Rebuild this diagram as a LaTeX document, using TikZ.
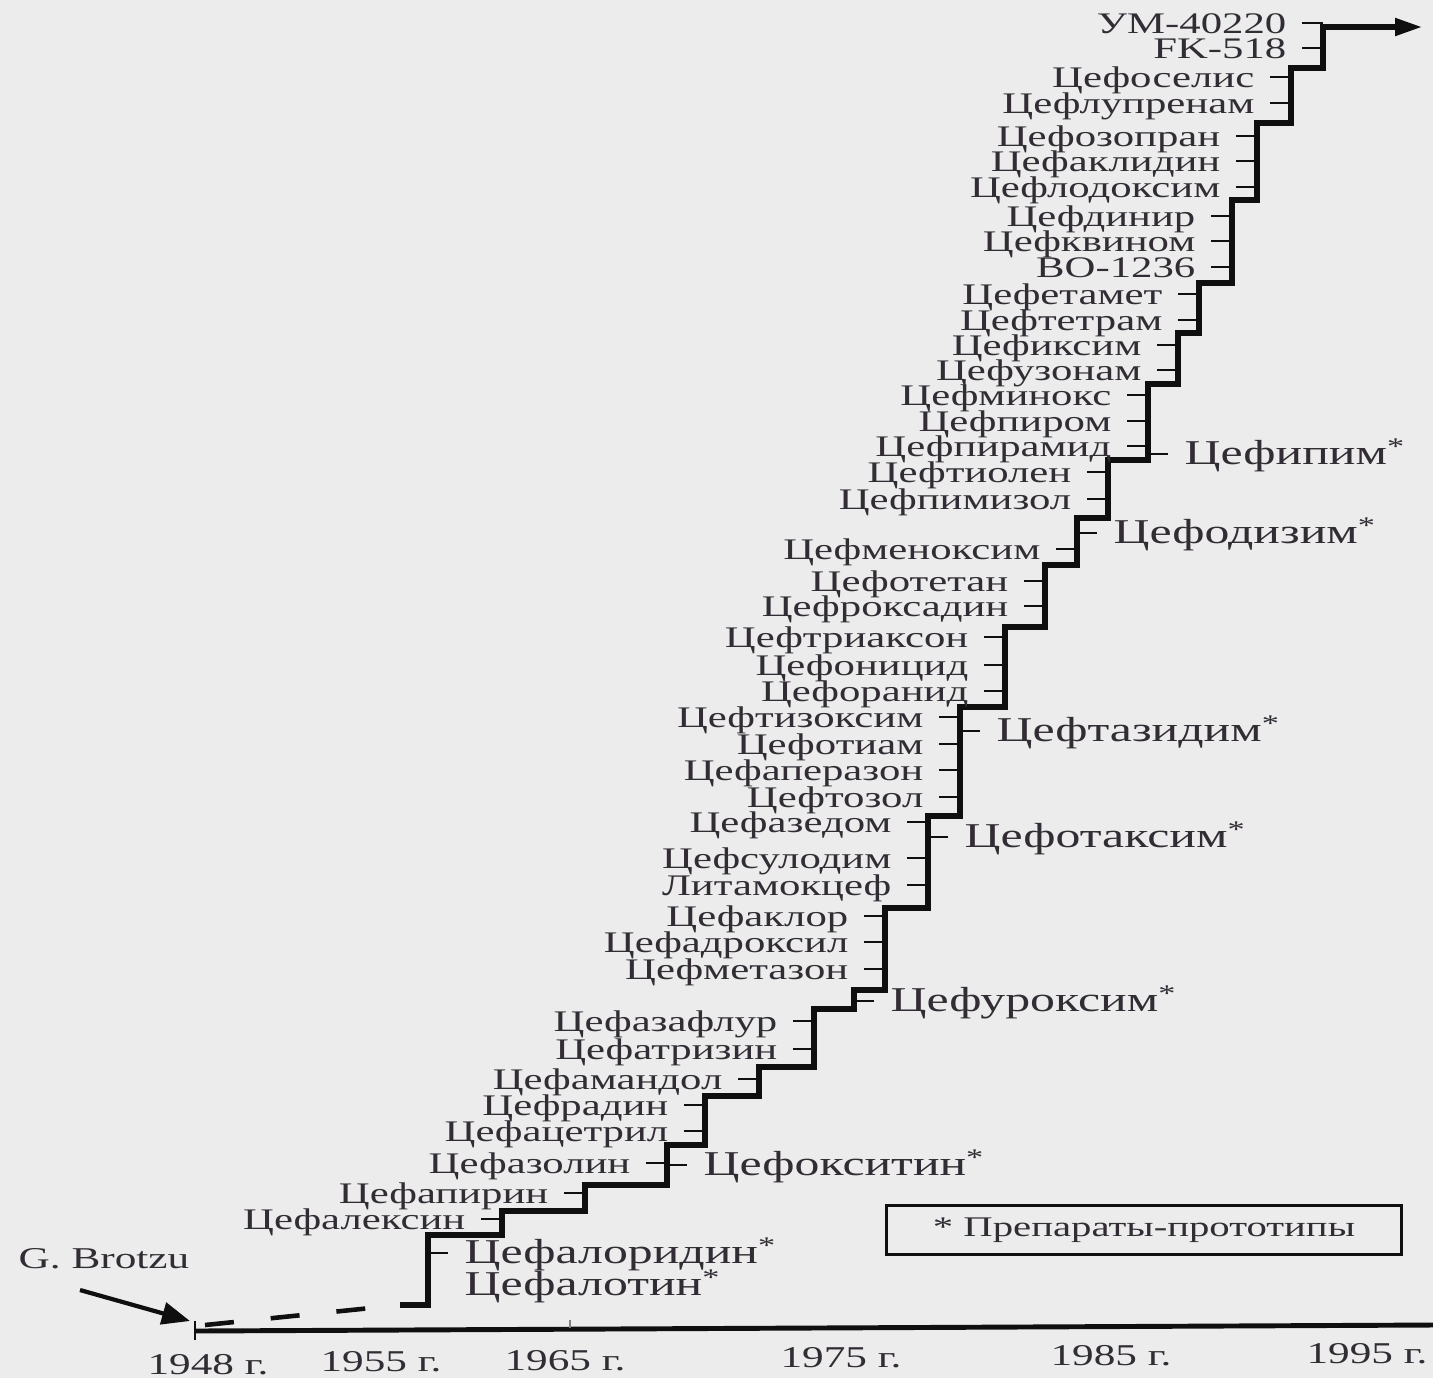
\documentclass[tikz,border=0pt]{standalone}
\usepackage{fontspec}
\setmainfont{Liberation Serif}
\newfontfamily\labfont[FakeStretch=1.43]{Liberation Serif}
\usetikzlibrary{arrows.meta}
\definecolor{bg}{RGB}{236,236,236}
\definecolor{ink}{RGB}{50,45,52}
\definecolor{lineink}{RGB}{15,15,15}
\newcommand{\protost}{\raisebox{0.3em}{\fontsize{6.8pt}{7pt}\selectfont *}}
\begin{document}
\begin{tikzpicture}[x=0.01cm,y=-0.01cm,
  leftlab/.style={anchor=east, inner sep=0pt, text height=0.62em, text depth=0pt,
    font=\labfont\fontsize{8.5pt}{9pt}\selectfont, text=ink},
  rightlab/.style={anchor=west, inner sep=0pt, text height=0.62em, text depth=0pt,
    font=\labfont\fontsize{9.9pt}{11pt}\selectfont, text=ink},
  yearlab/.style={inner sep=0pt, text height=0.62em, text depth=0pt,
    font=\labfont\fontsize{8.6pt}{9pt}\selectfont, text=ink},
  tickline/.style={draw=lineink, line width=0.55pt},
  stair/.style={draw=lineink, line width=1.45pt, line join=miter, line cap=butt},
  axisline/.style={draw=lineink, line width=1.4pt},
  dashline/.style={draw=lineink, line width=1.3pt, dash pattern=on 0.29cm off 0.37cm},
  legendbox/.style={draw=lineink, line width=0.8pt, minimum width=5.14cm, minimum height=0.49cm,
    inner sep=0pt, font=\labfont\fontsize{8.1pt}{9pt}\selectfont, text=ink}
]
\fill[bg] (0,0) rectangle (1433,1378);
\useasboundingbox (0,0) rectangle (1433,1378);

% staircase
\draw[stair, -{Triangle[length=0.27cm, width=0.17cm]}]
  (400,1305) -- (428,1305) -- (428,1235) -- (502,1235) -- (502,1211) -- (585,1211)
  -- (585,1185) -- (667,1185) -- (667,1145) -- (705,1145) -- (705,1096) -- (759,1096)
  -- (759,1067) -- (814,1067) -- (814,1009) -- (854,1009) -- (854,990) -- (885,990)
  -- (885,908) -- (928,908) -- (928,816) -- (960,816) -- (960,707) -- (1005,707)
  -- (1005,627) -- (1045,627) -- (1045,565) -- (1077,565) -- (1077,518) -- (1108,518)
  -- (1108,460) -- (1148,460) -- (1148,384) -- (1178,384) -- (1178,333) -- (1199,333)
  -- (1199,283) -- (1232,283) -- (1232,200) -- (1257,200) -- (1257,123) -- (1291,123)
  -- (1291,68) -- (1323,68) -- (1323,27) -- (1422,27);

% dashed beginning
\coordinate (start) at (205,1325);
\coordinate (firstdrug) at (400,1305);
\draw[dashline] (start) -- (firstdrug);

% axis
\coordinate (axL) at (196,1331);
\coordinate (axR) at (1433,1325);
\draw[axisline] (axL) -- (axR);
\draw[line width=0.7pt, draw=lineink] (195,1321) -- (195,1340);
\draw[line width=0.4pt, draw=gray] (570,1320) -- (570,1328);

% left labels
\foreach \t/\xv/\yy [count=\i] in {
  УМ-40220/1323/23, FK-518/1323/48,
  Цефоселис/1291/77, Цефлупренам/1291/103,
  Цефозопран/1257/136, Цефаклидин/1257/161, Цефлодоксим/1257/187,
  Цефдинир/1232/216, Цефквином/1232/241, BO-1236/1232/267,
  Цефетамет/1199/294, Цефтетрам/1199/320,
  Цефиксим/1178/345, Цефузонам/1178/370,
  Цефминокс/1148/395, Цефпиром/1148/421, Цефпирамид/1148/446,
  Цефтиолен/1108/472, Цефпимизол/1108/499,
  Цефменоксим/1077/549,
  Цефотетан/1045/581, Цефроксадин/1045/606,
  Цефтриаксон/1005/637, Цефоницид/1005/665, Цефоранид/1005/691,
  Цефтизоксим/960/717, Цефотиам/960/744, Цефаперазон/960/770, Цефтозол/960/797,
  Цефазедом/928/822, Цефсулодим/928/858, Литамокцеф/928/885,
  Цефаклор/885/916, Цефадроксил/885/942, Цефметазон/885/969,
  Цефазафлур/814/1021, Цефатризин/814/1049,
  Цефамандол/759/1079,
  Цефрадин/705/1105, Цефацетрил/705/1131,
  Цефазолин/667/1163,
  Цефапирин/585/1193,
  Цефалексин/502/1219}
{
  \coordinate (T\i) at (\xv,\yy);
  \node[leftlab] (L\i) at (\xv-36,\yy) {\t};
  \draw[tickline] ([xshift=0.15cm]L\i.east) -- (T\i);
}

% prototype labels (right side)
\foreach \t/\xv/\yy [count=\i] in {
  Цефипим/1148/454, Цефодизим/1077/533, Цефтазидим/960/731,
  Цефотаксим/928/837, Цефуроксим/854/1001, Цефокситин/667/1165,
  Цефалоридин/428/1253}
{
  \coordinate (P\i) at (\xv,\yy);
  \node[rightlab] (R\i) at (\xv+36,\yy) {\t\protost};
  \draw[tickline] (P\i) -- ([xshift=-0.16cm]R\i.west);
}
\node[rightlab] (R8) at (464,1285) {Цефалотин\protost};

% G. Brotzu
\node[yearlab, anchor=west] (brotzu) at (18,1258) {G. Brotzu};
\coordinate (bA) at (80,1290);
\coordinate (bB) at (190,1321);
\draw[draw=lineink, line width=1.2pt, -{Triangle[length=0.28cm, width=0.22cm]}] (bA) -- (bB);

% years
\node[yearlab] (y1) at (208,1364) {1948 г.};
\node[yearlab] (y2) at (381,1361) {1955 г.};
\node[yearlab] (y3) at (565,1360) {1965 г.};
\node[yearlab] (y4) at (841,1357) {1975 г.};
\node[yearlab] (y5) at (1111,1355) {1985 г.};
\node[yearlab] (y6) at (1367,1353) {1995 г.};

% legend
\node[legendbox] (legend) at (1144,1230) {* Препараты-прототипы};
\end{tikzpicture}
\end{document}
